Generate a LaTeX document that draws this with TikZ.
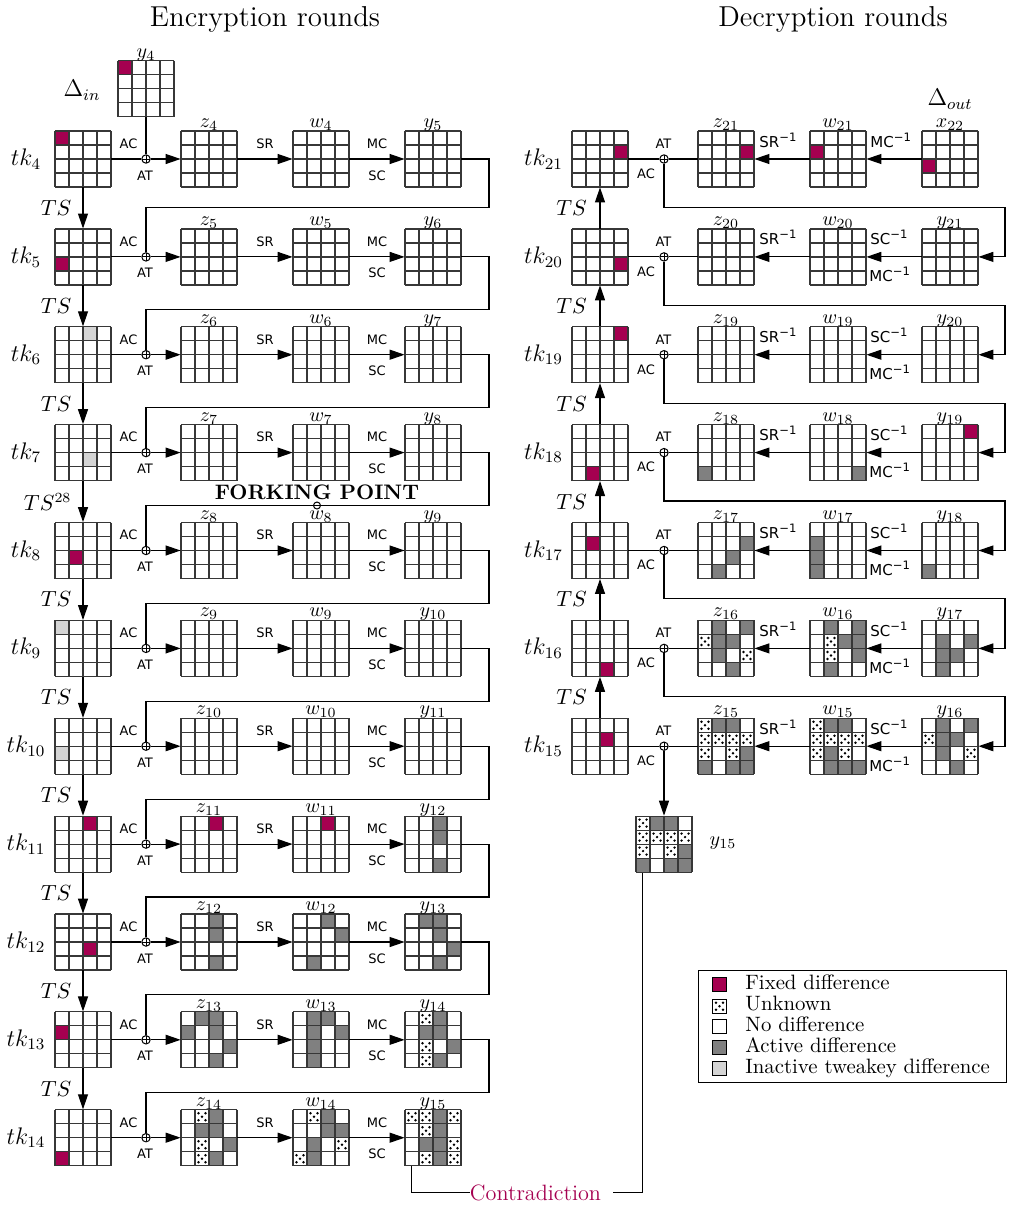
\documentclass[tikz,border=0pt]{standalone}
\usepackage{fontspec}
\newfontfamily\dvs{DejaVu Sans}
\usetikzlibrary{arrows.meta,calc}
\definecolor{cF}{RGB}{165,0,80}
\definecolor{cA}{RGB}{128,128,128}
\definecolor{cI}{RGB}{212,212,212}
\definecolor{cN}{RGB}{255,255,255}
\definecolor{glc}{RGB}{55,55,55}
\tikzset{
  gbox/.style={rectangle, minimum size=28pt, inner sep=0pt, draw=none},
  gl/.style={glc, line width=0.6pt},
  con/.style={black, line width=0.55pt},
  arr/.style={con, -{Triangle[length=7.5pt,width=5pt]}},
  xorn/.style={circle, draw, line width=0.5pt, fill=white, minimum size=4.2pt, inner sep=0pt,
    path picture={\draw[line width=0.5pt] (path picture bounding box.north) -- (path picture bounding box.south)
      (path picture bounding box.west) -- (path picture bounding box.east);}},
  oplab/.style={font=\dvs\fontsize{6.5}{7.5}\selectfont, inner sep=0pt, anchor=base},
  oplabi/.style={font=\dvs\fontsize{7.5}{9}\selectfont, inner sep=0pt, anchor=base west},
  tklab/.style={font=\fontsize{12}{14}\selectfont, inner sep=0pt},
  glab/.style={font=\fontsize{10}{12}\selectfont, inner sep=0pt, anchor=base},
  tslab/.style={font=\fontsize{10.5}{12}\selectfont, inner sep=0pt, anchor=east},
  dlab/.style={font=\fontsize{12}{14}\selectfont, inner sep=0pt},
  ttl/.style={font=\fontsize{14.4}{17}\selectfont, inner sep=0pt, anchor=base},
  legt/.style={font=\fontsize{10.4}{12}\selectfont, inner sep=0pt, anchor=base west},
}
\newcommand\inv{\raisebox{3pt}{\fontsize{5.8}{6}\selectfont\symbol{"2212}1}}
\newcommand\mycell[5]{%
  \pgfmathsetmacro\cx{#1+14*#4}%
  \pgfmathsetmacro\cy{#2+14*#3}%
  \if#5U%
    \fill[white] (\cx,\cy) rectangle ++(14,14);%
    \foreach \dx/\dy in {3.5/3.5,10.5/3.5,7/7,3.5/10.5,10.5/10.5}{\fill[black] (\cx+\dx,\cy+\dy) circle[radius=0.68pt];}%
  \else
    \edef\mycc{c#5}%
    \fill[fill=\mycc] (\cx,\cy) rectangle ++(14,14);%
  \fi}
\newcommand\G[4]{%
  \node[gbox] (#1) at (#2+28,#3+28) {};%
  \ifx\relax#4\relax\else
    \foreach \ra/\ca/\ta in {#4}{\mycell{#2}{#3}{\ra}{\ca}{\ta}}%
  \fi
  \foreach \k in {0,14,28,42,56}{%
    \draw[gl] (#2+\k,#3) -- (#2+\k,#3+56);%
    \draw[gl] (#2,#3+\k) -- (#2+56,#3+\k);}%
}
\newcommand\encrow[7]{%
  \pgfmathsetmacro\rowc{#2+28}%
  \G{tk#1}{55}{#2}{#3}%
  \G{z#1}{181}{#2}{#4}%
  \G{w#1}{293}{#2}{#5}%
  \G{y#7}{405}{#2}{#6}%
  \node[xorn] (xo#1) at (146,\rowc) {};%
  \node[tklab] (ltk#1) at (26,\rowc) {$tk_{#1}$};%
  \node[glab] (lz#1) at (209,#2-3.5) {$z_{#1}$};%
  \node[glab] (lw#1) at (321,#2-3.5) {$w_{#1}$};%
  \node[glab] (ly#7) at (433,#2-3.5) {$y_{#7}$};%
  \node[oplab] (ac#1) at (128.5,\rowc-10.7) {AC};%
  \node[oplab] (at#1) at (145,\rowc+21) {AT};%
  \node[oplab] (sr#1) at (265,\rowc-10.7) {SR};%
  \node[oplab] (mc#1) at (377,\rowc-10.7) {MC};%
  \node[oplab] (sc#1) at (377,\rowc+21) {SC};%
  \draw[con] (tk#1.east) -- (xo#1.west);%
  \draw[arr] (xo#1.east) -- (z#1.west);%
  \draw[arr] (z#1.east) -- (w#1.west);%
  \draw[arr] (w#1.east) -- (y#7.west);%
}
\def\mcstr{MC}
\newcommand\decrow[9]{%
  \pgfmathsetmacro\rowc{#2+28}%
  \G{tk#1}{572}{#2}{#3}%
  \G{z#1}{698}{#2}{#4}%
  \G{w#1}{810}{#2}{#5}%
  \G{#7}{922}{#2}{#6}%
  \node[xorn] (xo#1) at (664,\rowc) {};%
  \node[tklab] (ltk#1) at (543.5,\rowc) {$tk_{#1}$};%
  \node[glab] (lz#1) at (726,#2-3.5) {$z_{#1}$};%
  \node[glab] (lw#1) at (838,#2-3.5) {$w_{#1}$};%
  \node[glab] (l#7) at (950,#2-3.5) {$#8$};%
  \node[oplab] (at#1) at (663.5,\rowc-10.7) {AT};%
  \node[oplab] (ac#1) at (646,\rowc+19.3) {AC};%
  \node[oplabi] (sr#1) at (759,\rowc-12) {SR\inv};%
  \node[oplabi] (op#1) at (870,\rowc-12) {#9\inv};%
  \def\tmpop{#9}%
  \ifx\tmpop\mcstr\else
    \node[oplabi] (mc#1) at (869,\rowc+25) {MC\inv};%
  \fi
  \draw[arr] (#7.west) -- (w#1.east);%
  \draw[arr] (w#1.west) -- (z#1.east);%
  \draw[con] (z#1.west) -- (xo#1.east);%
  \draw[con] (xo#1.west) -- (tk#1.east);%
}
\begin{document}
\begin{tikzpicture}[x=0.5pt,y=-0.5pt]
\useasboundingbox (0,0) rectangle (1008,1205);
% titles
\node[ttl] (t1) at (265,26.7) {Encryption rounds};
\node[ttl] (t2) at (833,26.7) {Decryption rounds};
% input
\G{y4}{118}{60.7}{0/0/F}
\node[glab] (ly4) at (146,57) {$y_{4}$};
\node[dlab] (din) at (82,90) {$\Delta_{in}$};
\node[dlab] (dout) at (950,99) {$\Delta_{out}$};
% encryption rows
\encrow{4}{131}{0/0/F}{}{}{}{5}
\encrow{5}{228.9}{2/0/F}{}{}{}{6}
\encrow{6}{326.7}{0/2/I}{}{}{}{7}
\encrow{7}{424.6}{2/2/I}{}{}{}{8}
\encrow{8}{522.5}{2/1/F}{}{}{}{9}
\encrow{9}{620.4}{0/0/I}{}{}{}{10}
\encrow{10}{718.2}{2/0/I}{}{}{}{11}
\encrow{11}{816.1}{0/2/F}{0/2/F}{0/2/F}{0/2/A,1/2/A,3/2/A}{12}
\encrow{12}{914}{2/2/F}{0/2/A,1/2/A,3/2/A}{0/2/A,1/3/A,3/1/A}{0/1/A,0/2/A,1/2/A,2/3/A,3/2/A}{13}
\encrow{13}{1011.8}{1/0/F}{0/1/A,0/2/A,1/0/A,1/2/A,2/3/A,3/2/A}{0/1/A,0/2/A,1/1/A,1/3/A,2/1/A,3/1/A}{0/1/U,0/2/A,1/1/A,1/2/A,2/1/U,2/3/A,3/1/U,3/2/A}{14}
\encrow{14}{1109.7}{3/0/F}{0/1/U,0/2/A,1/1/A,1/2/A,2/1/U,2/3/A,3/1/U,3/2/A}{0/1/U,0/2/A,1/2/A,1/3/A,2/1/A,2/3/U,3/0/U,3/1/A}{0/0/U,0/1/U,0/2/A,0/3/U,1/1/U,1/2/A,2/1/A,2/2/A,2/3/U,3/1/U,3/2/A,3/3/U}{15}
\draw[con] (y4.south) -- (xo4.north);
% encryption returns
\foreach \i/\n/\ry in {4/5/207.3,5/6/309.7,6/7/407.6,7/8/505.5,8/9/603.4,9/10/701.2,10/11/799.1,11/12/897.0,12/13/994.8,13/14/1092.7}{
  \coordinate (r\i) at (489,\ry);
  \draw[con] (y\n.east) -| (r\i) -| (xo\n.north);
}
\foreach \i/\n/\lab in {4/5/TS,5/6/TS,6/7/TS,7/8/TS^{28},8/9/TS,9/10/TS,10/11/TS,11/12/TS,12/13/TS,13/14/TS}{
  \draw[arr] (tk\i.south) -- (tk\n.north) node[tslab, midway, xshift=-5.5pt] {$\lab$};
}
\node[font=\bfseries\fontsize{10.5}{12}\selectfont, inner sep=0pt] (fork) at (317,492) {FORKING POINT};
\node[circle, draw, line width=0.5pt, minimum size=3.5pt, inner sep=0pt] (fpc) at (317,505.5) {};
% decryption rows
\decrow{21}{131}{1/3/F}{1/3/F}{1/0/F}{2/0/F}{x22}{x_{22}}{MC}
\decrow{20}{228.9}{2/3/F}{}{}{}{y21}{y_{21}}{SC}
\decrow{19}{326.7}{0/3/F}{}{}{}{y20}{y_{20}}{SC}
\decrow{18}{424.6}{3/1/F}{3/0/A}{3/3/A}{0/3/F}{y19}{y_{19}}{SC}
\decrow{17}{522.5}{1/1/F}{1/3/A,2/2/A,3/1/A}{1/0/A,2/0/A,3/0/A}{3/0/A}{y18}{y_{18}}{SC}
\decrow{16}{620.4}{3/2/F}{0/1/A,0/3/A,1/0/U,1/1/A,1/2/A,2/1/A,2/3/U,3/2/A}{0/1/A,0/3/A,1/1/U,1/2/A,1/3/A,2/1/U,2/3/A,3/1/A}{1/1/A,1/3/A,2/1/A,2/2/A,3/1/A}{y17}{y_{17}}{SC}
\decrow{15}{718.2}{1/2/F}{0/0/U,0/1/A,0/2/A,1/0/U,1/1/U,1/2/U,1/3/U,2/0/U,2/2/U,2/3/A,3/0/A,3/2/A,3/3/A}{0/0/U,0/1/A,0/2/A,1/0/U,1/1/U,1/2/U,1/3/U,2/0/U,2/1/A,2/2/U,3/1/A,3/2/A,3/3/A}{0/1/A,0/3/A,1/0/U,1/1/A,1/2/A,2/1/A,2/3/U,3/2/A}{y16}{y_{16}}{SC}
\foreach \a/\qy in {21/207.4,20/305.2,19/403.1,18/501.0,17/598.9,16/696.7}{
  \coordinate (q\a) at (1005,\qy);
  \draw[arr] (xo\a.south) |- (q\a) |- (y\a.east);
}
\foreach \a/\b in {15/16,16/17,17/18,18/19,19/20,20/21}{
  \draw[arr] (tk\a.north) -- (tk\b.south) node[tslab, midway, xshift=-6.25pt] {$TS$};
}
\G{y15d}{636}{816.1}{0/0/U,0/1/A,0/2/A,1/0/U,1/1/U,1/2/U,1/3/U,2/0/U,2/2/U,2/3/A,3/0/A,3/2/A,3/3/A}
\node[font=\fontsize{10}{12}\selectfont, inner sep=0pt] (ly15d) at (723,843) {$y_{15}$};
\draw[arr] (xo15.south) -- (y15d.north);
% contradiction
\node[font=\fontsize{11.1}{13}\selectfont, text=cF, inner sep=0pt] (contra) at (535.5,1192.5) {Contradiction};
\draw[con] ($(y15.south west)+(7,0)$) |- (contra.west);
\draw[con] ([xshift=6pt]contra.east) -| ($(y15d.south west)+(7,0)$);
% legend
\node[draw, line width=0.6pt, inner sep=0pt, minimum width=154pt, minimum height=55.85pt, anchor=north west] (legend) at (698,970) {};
\foreach \yy/\tp/\txt in {984.3/F/Fixed difference,1005.7/U/Unknown,1026.3/N/No difference,1047.3/A/Active difference,1068.3/I/Inactive tweakey difference}{
  \mycell{712.5}{\yy-6.5}{0}{0}{\tp}
  \draw[line width=0.6pt] (712.5,\yy-6.5) rectangle ++(14,14);
  \node[legt] at (745,\yy+5) {\txt};
}
\end{tikzpicture}
\end{document}
